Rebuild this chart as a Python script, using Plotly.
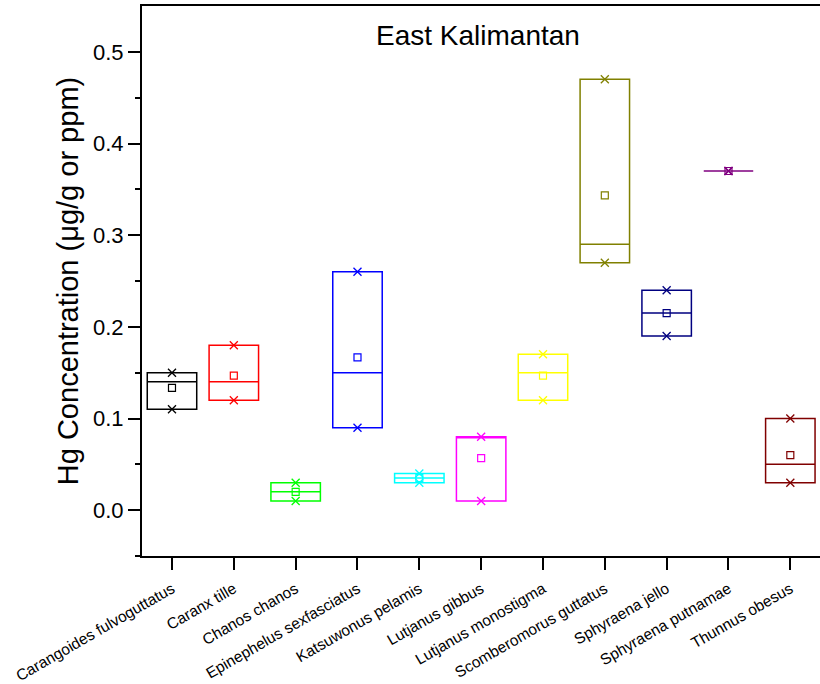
import numpy as np
import plotly.graph_objects as go

# Hg measurements per species (µg/g)
species = [
    "Carangoides fulvoguttatus", "Caranx tille", "Chanos chanos",
    "Epinephelus sexfasciatus", "Katsuwonus pelamis", "Lutjanus gibbus",
    "Lutjanus monostigma", "Scomberomorus guttatus", "Sphyraena jello",
    "Sphyraena putnamae", "Thunnus obesus",
]
samples = [
    [0.11, 0.14, 0.15],
    [0.12, 0.14, 0.18],
    [0.01, 0.02, 0.03],
    [0.09, 0.15, 0.26],
    [0.03, 0.04],
    [0.01, 0.08, 0.08],
    [0.12, 0.15, 0.17],
    [0.27, 0.29, 0.47],
    [0.19, 0.24],
    [0.37],
    [0.03, 0.05, 0.10],
]
colors = [
    "#000000", "#FF0000", "#00FF00", "#0000FF", "#00FFFF", "#FF00FF",
    "#FFFF00", "#808000", "#000080", "#800080", "#800000",
]

FONT = "Arial, Liberation Sans, sans-serif"

fig = go.Figure()
for name, vals, col in zip(species, samples, colors):
    v = np.array(vals)
    lo, hi, med, avg = v.min(), v.max(), float(np.median(v)), v.mean()
    # box spans min..max with the median line
    fig.add_trace(go.Box(
        x=[name], q1=[lo], median=[med], q3=[hi],
        lowerfence=[lo], upperfence=[hi],
        width=0.8, whiskerwidth=0,
        line=dict(color=col, width=1.5),
        fillcolor="rgba(0,0,0,0)",
        boxpoints=False, hoverinfo="skip", showlegend=False,
    ))
    # min / max markers
    fig.add_trace(go.Scatter(
        x=[name, name], y=[lo, hi], mode="markers",
        marker=dict(symbol="x-thin", size=8, line=dict(color=col, width=1.3)),
        showlegend=False, hoverinfo="skip",
    ))
    # mean marker
    fig.add_trace(go.Scatter(
        x=[name], y=[avg], mode="markers",
        marker=dict(symbol="square-open", size=7, color=col, line=dict(width=1.2)),
        showlegend=False, hoverinfo="skip",
    ))

fig.add_annotation(
    text="East Kalimantan", x=0.495, y=0.518, xref="paper", yref="y",
    showarrow=False, font=dict(family=FONT, size=28, color="black"),
)

fig.update_layout(
    width=820, height=684,
    margin=dict(l=142, r=0, t=6, b=128),
    plot_bgcolor="white", paper_bgcolor="white",
    font=dict(family=FONT, color="black"),
)
fig.update_xaxes(
    type="category", categoryorder="array", categoryarray=species,
    range=[-0.485, 10.48],
    showline=True, linecolor="black", linewidth=2, mirror=True,
    ticks="outside", ticklen=12, tickwidth=2, tickcolor="black",
    tickangle=-30, tickfont=dict(family=FONT, size=15.5),
    ticklabelstandoff=4,
    showgrid=False, zeroline=False,
)
fig.update_yaxes(
    range=[-0.05, 0.55], tickvals=[0.0, 0.1, 0.2, 0.3, 0.4, 0.5],
    tickformat=".1f",
    showline=True, linecolor="black", linewidth=2,
    ticks="outside", ticklen=12, tickwidth=2, tickcolor="black",
    minor=dict(tickvals=[-0.05, 0.05, 0.15, 0.25, 0.35, 0.45], ticks="outside",
               ticklen=5, tickwidth=2, tickcolor="black"),
    tickfont=dict(family=FONT, size=22),
    title=dict(text="Hg Concentration (μg/g or ppm)", font=dict(family=FONT, size=29), standoff=6),
    showgrid=False, zeroline=False,
)

fig.write_html("out.html")
